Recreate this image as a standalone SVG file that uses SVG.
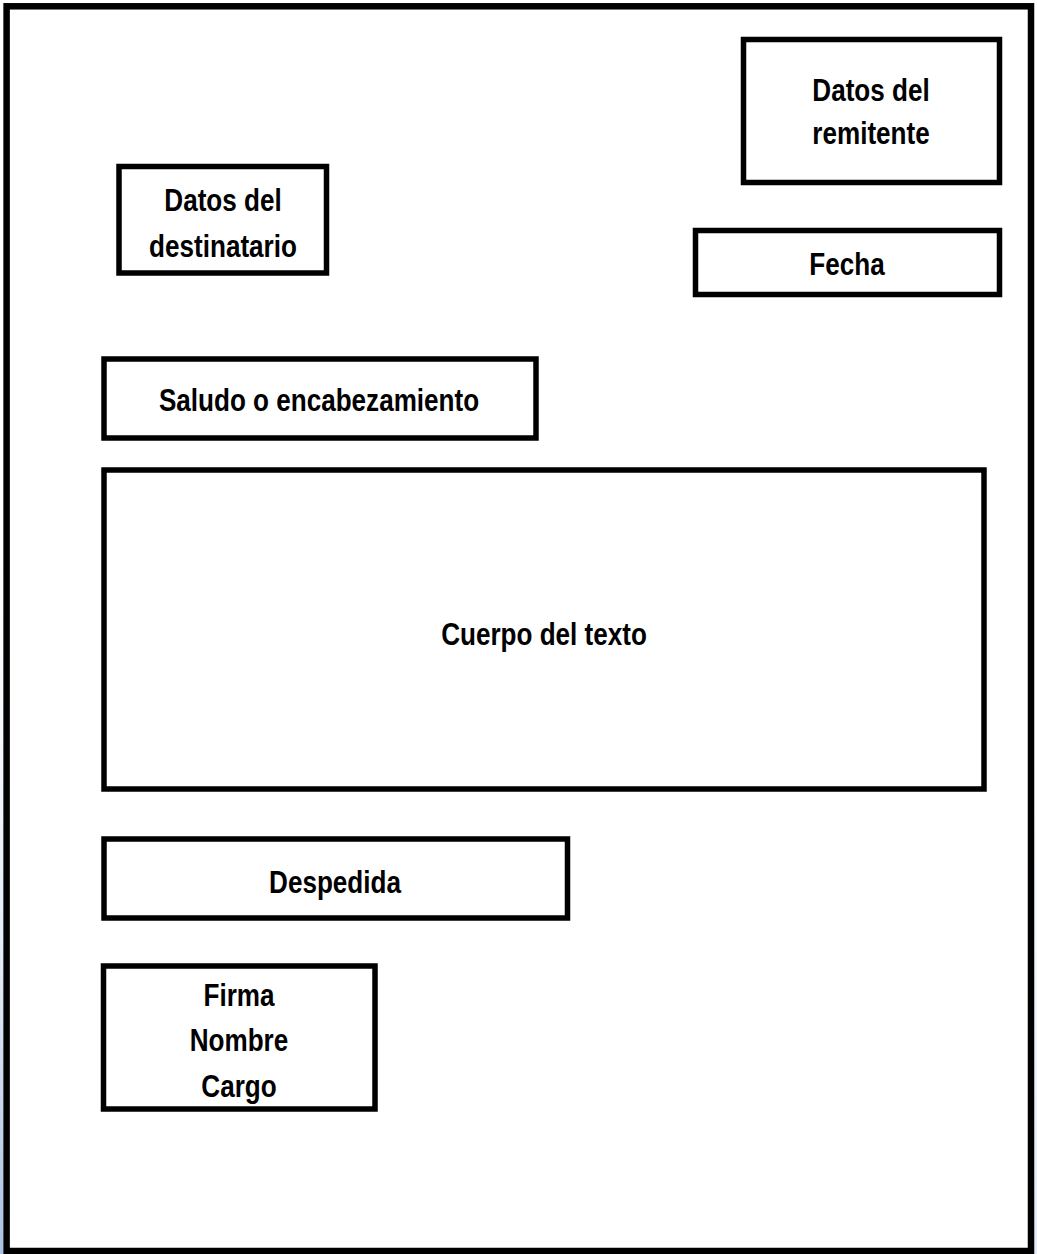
<svg xmlns="http://www.w3.org/2000/svg" width="1037" height="1254" viewBox="0 0 1037 1254">
  <defs>
    <linearGradient id="edgeL" x1="0" y1="0" x2="0" y2="1">
      <stop offset="0" stop-color="#ffffff"/>
      <stop offset="0.45" stop-color="#ffffff"/>
      <stop offset="0.75" stop-color="#e6edf8"/>
      <stop offset="1" stop-color="#a9c1e3"/>
    </linearGradient>
    <linearGradient id="edgeR" x1="0" y1="0" x2="0" y2="1">
      <stop offset="0" stop-color="#ffffff"/>
      <stop offset="0.6" stop-color="#ffffff"/>
      <stop offset="1" stop-color="#e3ecf8"/>
    </linearGradient>
  </defs>
  <style>
    .box { fill: #ffffff; stroke: #000000; stroke-width: 5.5; }
    .frame { fill: #ffffff; stroke: #000000; stroke-width: 6.5; }
    .lbl { font-family: "Liberation Sans", Arial, sans-serif; font-weight: bold; font-size: 32px; fill: #000000; text-anchor: middle; }
  </style>
  <rect x="0" y="0" width="1037" height="1254" fill="#ffffff"/>
  <rect x="0" y="0" width="3.5" height="1254" fill="url(#edgeL)"/>
  <rect x="1034" y="0" width="3" height="1254" fill="url(#edgeR)"/>
  <g id="page">
    <rect class="frame" x="6.6" y="6.3" width="1024.4" height="1244.7"/>
  </g>
  <g id="connectors"></g>
  <g id="remitente">
    <rect class="box" x="743.5" y="39.5" width="256" height="143"/>
    <text class="lbl" transform="translate(871,101) scale(0.815,1)" x="0" y="0">Datos del</text>
    <text class="lbl" transform="translate(871,144) scale(0.815,1)" x="0" y="0">remitente</text>
  </g>
  <g id="destinatario">
    <rect class="box" x="119" y="166.5" width="207.5" height="106.5"/>
    <text class="lbl" transform="translate(223,211) scale(0.815,1)" x="0" y="0">Datos del</text>
    <text class="lbl" transform="translate(223,257) scale(0.815,1)" x="0" y="0">destinatario</text>
  </g>
  <g id="fecha">
    <rect class="box" x="695.5" y="230.5" width="304" height="64"/>
    <text class="lbl" transform="translate(847,275) scale(0.815,1)" x="0" y="0">Fecha</text>
  </g>
  <g id="saludo">
    <rect class="box" x="104" y="359" width="432" height="79"/>
    <text class="lbl" transform="translate(319,411) scale(0.815,1)" x="0" y="0">Saludo o encabezamiento</text>
  </g>
  <g id="cuerpo">
    <rect class="box" x="104" y="470" width="880" height="319"/>
    <text class="lbl" transform="translate(544,645) scale(0.815,1)" x="0" y="0">Cuerpo del texto</text>
  </g>
  <g id="despedida">
    <rect class="box" x="104" y="839" width="463.5" height="79"/>
    <text class="lbl" transform="translate(335,893) scale(0.815,1)" x="0" y="0">Despedida</text>
  </g>
  <g id="firma">
    <rect class="box" x="103.5" y="966" width="271.5" height="143"/>
    <text class="lbl" transform="translate(239,1006) scale(0.815,1)" x="0" y="0">Firma</text>
    <text class="lbl" transform="translate(239,1051) scale(0.815,1)" x="0" y="0">Nombre</text>
    <text class="lbl" transform="translate(239,1097) scale(0.815,1)" x="0" y="0">Cargo</text>
  </g>
</svg>
